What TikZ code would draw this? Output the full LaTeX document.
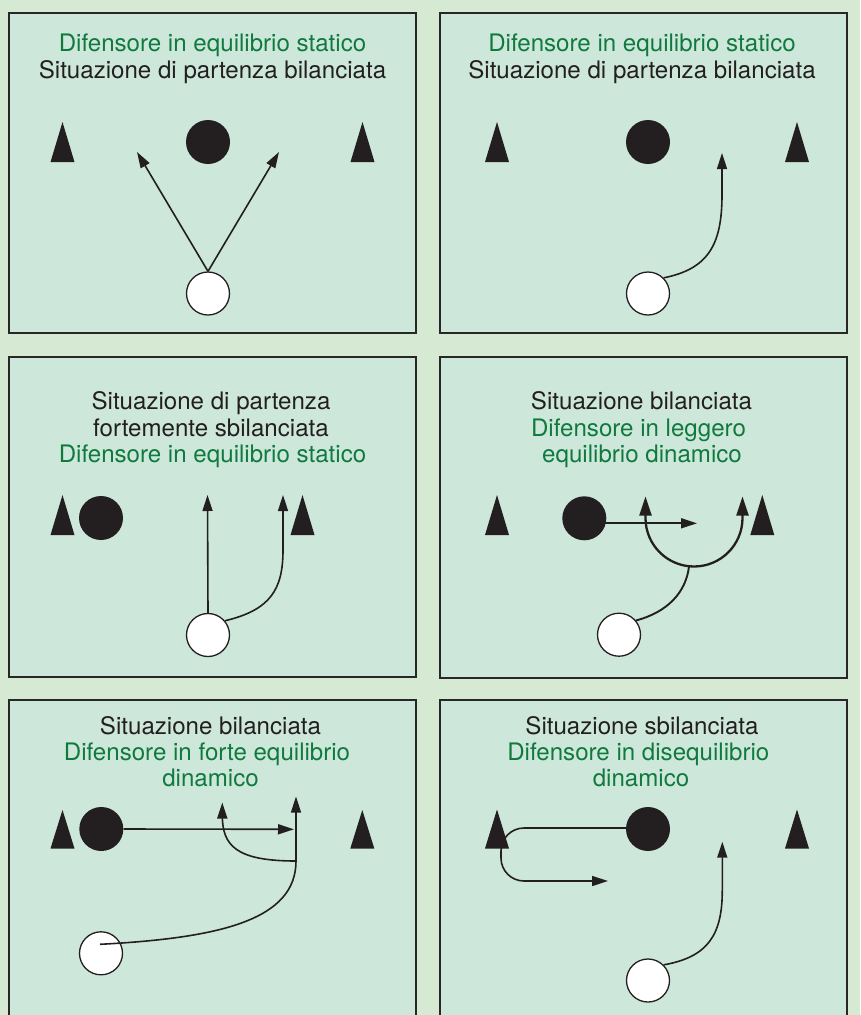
\documentclass[tikz,border=0pt]{standalone}
\usepackage{fontspec}
\setmainfont{TeX Gyre Heros}
\usetikzlibrary{arrows.meta}

\definecolor{pagebg}{RGB}{214,233,211}
\definecolor{fieldbg}{RGB}{206,231,219}
\definecolor{framec}{RGB}{40,38,38}
\definecolor{inkc}{RGB}{35,31,32}
\definecolor{greenc}{RGB}{16,122,62}

% cone marker: x, apex y, base y
\newcommand\conemark[3]{\fill[inkc] (#1-12,#3) -- (#1,#2) -- (#1+12,#3) -- cycle;}

\begin{document}
\begin{tikzpicture}[x=1pt,y=-1pt,
  field/.style={fill=fieldbg,draw=framec,line width=2pt},
  caption/.style={anchor=base,inner sep=0pt,text=inkc,font=\fontsize{24.1}{26.6}\selectfont},
  gcaption/.style={caption,text=greenc},
  defender/.style={circle,fill=inkc,minimum size=44pt,inner sep=0pt},
  attacker/.style={circle,fill=white,draw=inkc,line width=1.3pt,minimum size=43pt,inner sep=0pt},
  run/.style={draw=inkc,line width=1.6pt,-{Triangle[length=16pt,width=10pt]}},
  runthick/.style={draw=inkc,line width=2.3pt},
  plain/.style={draw=inkc,line width=1.6pt}]

\useasboundingbox (0,0) rectangle (860,1015);
\clip (0,0) rectangle (860,1015);
\fill[pagebg] (0,0) rectangle (860,1015);

% ---------- panel 1 ----------
\path[field] (8.5,13) rectangle (416,333);
\node[gcaption] (t1a) at (212.5,51.7) {Difensore in equilibrio statico};
\node[caption] (t1b) at (212.5,78.3) {Situazione di partenza bilanciata};
\conemark{62.5}{122}{162}
\conemark{362.5}{122}{162}
\node[defender] (b1) at (208,142) {};
\node[attacker] (w1) at (208,293.5) {};
\coordinate (p1l) at (137,152);
\coordinate (p1r) at (279,152);
\draw[run] (w1.north) -- (p1l);
\draw[run] (w1.north) -- (p1r);

% ---------- panel 2 ----------
\path[field] (439.5,13) rectangle (846.5,333);
\node[gcaption] (t2a) at (642,51.7) {Difensore in equilibrio statico};
\node[caption] (t2b) at (642,78.3) {Situazione di partenza bilanciata};
\conemark{497}{122}{162}
\conemark{797}{122}{162}
\node[defender] (b2) at (648,142) {};
\node[attacker] (w2) at (648,293.5) {};
\coordinate (p2) at (722,153);
\draw[run] (w2.45) .. controls (708,269) and (722,245) .. (722,195) -- (p2);

% ---------- panel 3 ----------
\path[field] (8.5,356.7) rectangle (416,677);
\node[caption] (t3a) at (211,409.5) {Situazione di partenza};
\node[caption] (t3b) at (211,436.5) {fortemente sbilanciata};
\node[gcaption] (t3c) at (212.5,462.7) {Difensore in equilibrio statico};
\conemark{62.5}{495}{535}
\conemark{302.5}{495}{535}
\node[defender] (b3) at (101,518) {};
\node[attacker] (w3) at (208,635) {};
\coordinate (p3a) at (207.5,495);
\coordinate (p3b) at (283,495);
\draw[run] (w3.north) -- (p3a);
\draw[run] (w3.40) .. controls (270,610) and (283,590) .. (283,550) -- (p3b);

% ---------- panel 4 ----------
\path[field] (439.5,356.7) rectangle (846.5,677.5);
\node[caption] (t4a) at (641.5,409.5) {Situazione bilanciata};
\node[gcaption] (t4b) at (638.5,436) {Difensore in leggero};
\node[gcaption] (t4c) at (642,462.5) {equilibrio dinamico};
\conemark{497}{495}{535}
\conemark{762.3}{495}{535}
\node[defender] (b4) at (584.3,518.3) {};
\node[attacker] (w4) at (619,634.7) {};
\coordinate (p4h) at (697,523.3);
\coordinate (p4l) at (645.5,496.5);
\coordinate (p4r) at (742.5,496.5);
\coordinate (u4) at (689,566.5);
\draw[run,line width=1.8pt] ([yshift=-5pt]b4.center) -- (p4h);
\draw[runthick,{Triangle[length=19pt,width=12pt]}-{Triangle[length=19pt,width=12pt]}]
  (p4l) -- (645.5,518)
  .. controls (645.5,544.8) and (667.2,566.5) .. (694,566.5)
  .. controls (720.8,566.5) and (742.5,544.8) .. (742.5,518) -- (p4r);
\draw[plain,line width=1.9pt] (w4.40) .. controls (668,612) and (686,592) .. (u4);

% ---------- panel 5 ----------
\path[field] (8.5,700) rectangle (416,1040);
\node[caption] (t5a) at (210.5,734) {Situazione bilanciata};
\node[gcaption] (t5b) at (207,760) {Difensore in forte equilibrio};
\node[gcaption] (t5c) at (210.5,786) {dinamico};
\conemark{62.5}{810}{848.5}
\conemark{362.3}{810}{848.5}
\node[defender] (b5) at (101.3,829) {};
\node[attacker] (w5) at (101,953.3) {};
\coordinate (j5) at (296,861);
\coordinate (p5v) at (296,796.5);
\coordinate (p5h) at (294,829.3);
\coordinate (p5c) at (222.3,802.5);
\draw[run] (b5.east) -- (p5h);
\draw[run] (j5) -- (p5v);
\draw[run] (j5) .. controls (235,861) and (222.3,845) .. (222.3,815) -- (p5c);
\draw[plain] ([xshift=-1pt,yshift=9pt]w5.center) .. controls (220,938) and (296,920) .. (j5);

% ---------- panel 6 ----------
\path[field] (439.5,700) rectangle (846.5,1040);
\node[caption] (t6a) at (642,734) {Situazione sbilanciata};
\node[gcaption] (t6b) at (638.3,760) {Difensore in disequilibrio};
\node[gcaption] (t6c) at (641,786) {dinamico};
\node[defender] (b6) at (648,829) {};
\node[attacker] (w6) at (648,980.5) {};
\coordinate (p6h) at (608,881);
\coordinate (p6v) at (722.3,841.7);
\draw[run,rounded corners=23pt] ([yshift=1pt]b6.west) -- (501,828) -- (501,881) -- (p6h);
\conemark{497}{809.5}{848.5}
\conemark{797}{809.5}{848.5}
\draw[run] (w6.45) .. controls (708,957) and (722.3,935) .. (722.3,890) -- (p6v);

\end{tikzpicture}
\end{document}
